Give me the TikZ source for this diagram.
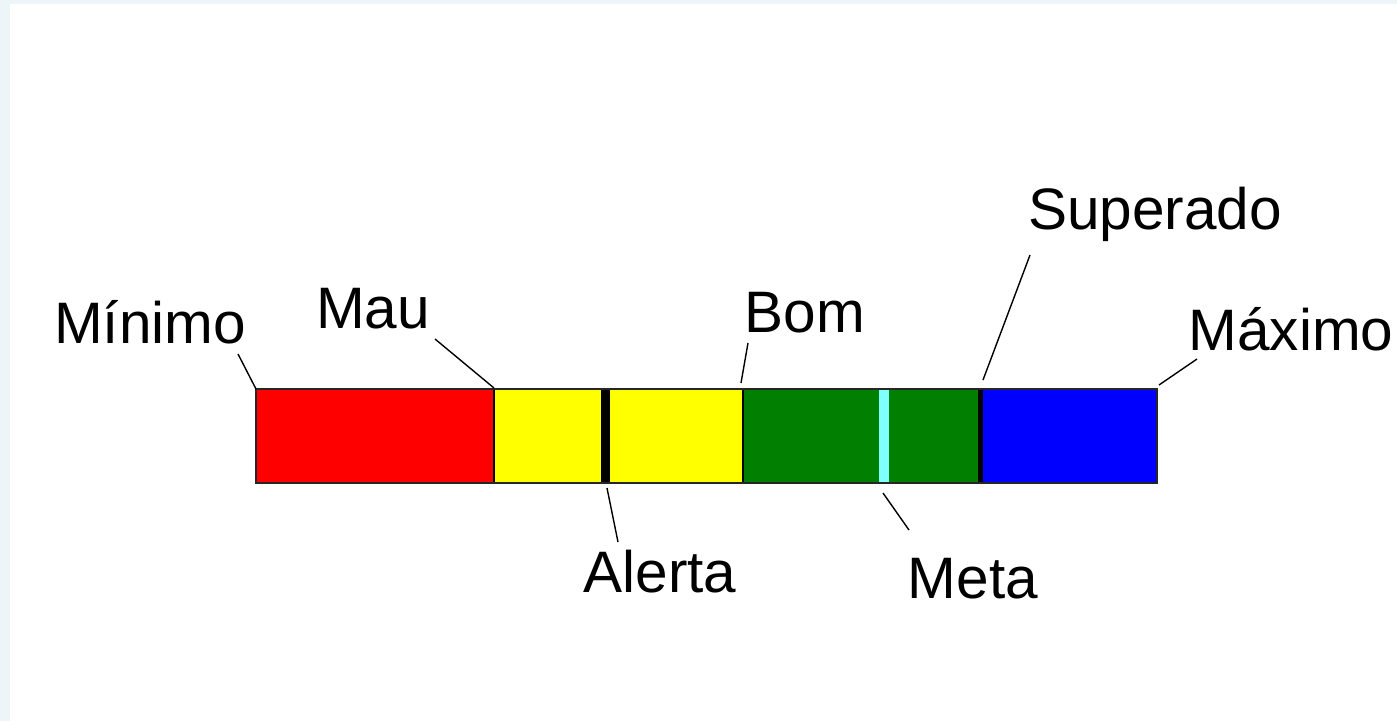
\documentclass[tikz,border=0pt]{standalone}
\usepackage{fontspec}
\setmainfont{Liberation Sans}
\definecolor{bgtint}{HTML}{EEF5F9}
\definecolor{segred}{HTML}{FF0000}
\definecolor{segyellow}{HTML}{FFFF00}
\definecolor{seggreen}{HTML}{007F00}
\definecolor{segblue}{HTML}{0000FF}
\definecolor{segcyan}{HTML}{80FFFF}
\tikzset{
  lbl/.style={inner sep=0pt, anchor=base, font=\fontsize{58.5}{61}\selectfont},
  leader/.style={draw=black, line width=1.4pt},
  seg/.style={draw=none},
}
\begin{document}
\begin{tikzpicture}[x=1pt,y=-1pt]
\useasboundingbox (0,0) rectangle (1397,721);
% background
\fill[bgtint] (0,0) rectangle (1397,721);
\fill[white] (10,4) rectangle (1397,721);
% bar segments
\fill[segred] (256,389) rectangle (494,483);
\fill[segyellow] (494,389) rectangle (743,483);
\fill[seggreen] (743,389) rectangle (980,483);
\fill[segblue] (980,389) rectangle (1157,483);
\fill[black] (601,389) rectangle (610,483);
\fill[segcyan] (879,389) rectangle (889,483);
\fill[black] (978,389) rectangle (983,483);
\draw[line width=1.2pt] (494,389) -- (494,483);
\draw[line width=1.2pt] (743,389) -- (743,483);
\draw[line width=1.6pt, draw=black!85] (256,389) rectangle (1157,483);
% labels
\node[lbl] (minimo) at (150,343) {Mínimo};
\node[lbl] (mau) at (373,328) {Mau};
\node[lbl] (bom) at (805,332) {Bom};
\node[lbl] (alerta) at (660,592) {Alerta};
\node[lbl] (meta) at (973,598) {Meta};
\node[lbl] (superado) at (1155,229) {Superado};
\node[lbl] (maximo) at (1291,350) {Máximo};
% leader end points
\coordinate (minimoA) at (238,354);
\coordinate (minimoB) at (256,389);
\coordinate (mauA) at (435,339);
\coordinate (mauB) at (494,388);
\coordinate (bomA) at (748,343);
\coordinate (bomB) at (741,383);
\coordinate (alertaA) at (618,542);
\coordinate (alertaB) at (607,488);
\coordinate (metaA) at (909,530);
\coordinate (metaB) at (883,493);
\coordinate (superadoA) at (1030,255);
\coordinate (superadoB) at (983,380);
\coordinate (maximoA) at (1197,359);
\coordinate (maximoB) at (1159,385);
\draw[leader] (minimoA) -- (minimoB);
\draw[leader] (mauA) -- (mauB);
\draw[leader] (bomA) -- (bomB);
\draw[leader] (alertaA) -- (alertaB);
\draw[leader] (metaA) -- (metaB);
\draw[leader] (superadoA) -- (superadoB);
\draw[leader] (maximoA) -- (maximoB);
\end{tikzpicture}
\end{document}
